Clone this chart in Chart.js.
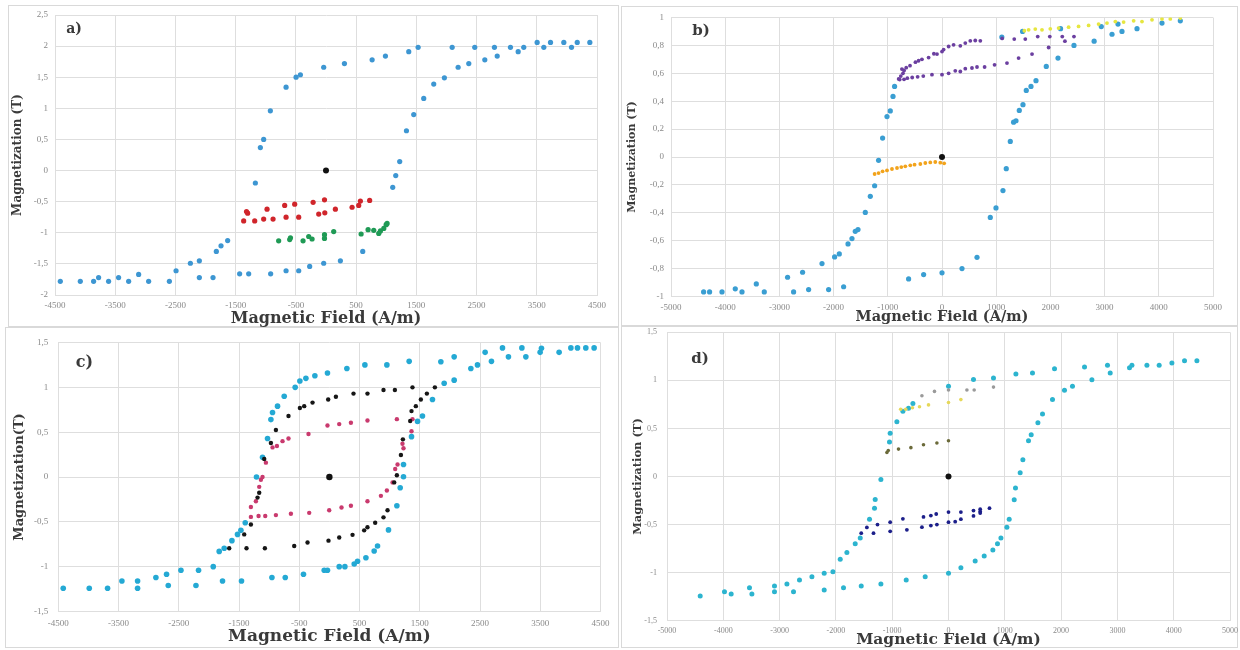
<!DOCTYPE html>
<html>
<head>
<meta charset="utf-8">
<script src="https://cdn.jsdelivr.net/npm/chart.js@4.4.1/dist/chart.umd.min.js"></script>
<style>
  html, body { margin: 0; padding: 0; background: #ffffff; }
  body { width: 1240px; height: 650px; position: relative; overflow: hidden; }
  .frame { position: absolute; box-sizing: border-box; border: 1px solid #d9d9d9; }
  canvas { position: absolute; }
</style>
</head>
<body>
<div class="frame" style="left:8px;top:5px;width:611px;height:322px"></div>
<div class="frame" style="left:621px;top:6px;width:617px;height:320px"></div>
<div class="frame" style="left:5px;top:327px;width:614px;height:321px"></div>
<div class="frame" style="left:621px;top:326px;width:617px;height:322px"></div>
<canvas id="panelA" width="620" height="327" style="left:0;top:0"></canvas>
<canvas id="panelB" width="620" height="327" style="left:620px;top:0"></canvas>
<canvas id="panelC" width="620" height="323" style="left:0;top:327px"></canvas>
<canvas id="panelD" width="620" height="323" style="left:620px;top:327px"></canvas>
<script>
// ---- Axis ticks (A/m and T) ----
const fieldTicksA = [-4500, -3500, -2500, -1500, -500, 500, 1500, 2500, 3500, 4500];
const magTicksA   = [-2, -1.5, -1, -0.5, 0, 0.5, 1, 1.5, 2, 2.5];
const fieldTicksB = [-5000, -4000, -3000, -2000, -1000, 0, 1000, 2000, 3000, 4000, 5000];
const magTicksB   = [-1, -0.8, -0.6, -0.4, -0.2, 0, 0.2, 0.4, 0.6, 0.8, 1];
const fieldTicksC = [-4500, -3500, -2500, -1500, -500, 500, 1500, 2500, 3500, 4500];
const magTicksC   = [-1.5, -1, -0.5, 0, 0.5, 1, 1.5];
const fieldTicksD = [-5000, -4000, -3000, -2000, -1000, 0, 1000, 2000, 3000, 4000, 5000];
const magTicksD   = [-1.5, -1, -0.5, 0, 0.5, 1, 1.5];

// ---- a) major loop and two minor loops, [H (A/m), M (T)] ----
const loopA_major = [
  [-4412,-1.78],[-4080,-1.78],[-3859,-1.78],[-3776,-1.72],[-3610,-1.78],[-3444,-1.72],[-3277,-1.78],
  [-3111,-1.67],[-2945,-1.78],[-2601,-1.78],[-2490,-1.61],[-2252,-1.49],[-2103,-1.45],[-2103,-1.72],
  [-1876,-1.72],[-1821,-1.30],[-1743,-1.21],[-1633,-1.125],[-1434,-1.66],[-1284,-1.66],[-919,-1.66],
  [-663,-1.61],[-453,-1.61],[-271,-1.54],[-38,-1.49],[239,-1.45],[610,-1.30],[1108,-0.27],[1158,-0.08],
  [1224,0.145],[1336,0.64],[1457,0.90],[1623,1.16],[1789,1.39],[1966,1.49],[2194,1.66],[2371,1.72],
  [2637,1.78],[2843,1.84],[3191,1.91],
  [-1173,-0.20],[-1090,0.37],[-1035,0.50],[-924,0.96],[-663,1.34],[-497,1.50],[-425,1.54],[-38,1.66],
  [306,1.72],[766,1.78],[987,1.84],[1374,1.91],[1530,1.98],[2095,1.98],[2470,1.98],[2797,1.98],
  [3063,1.98],[3284,1.98],[3506,2.06],[3617,1.98],[3728,2.06],[3949,2.06],[4077,1.98],[4172,2.06],[4381,2.06]
];
const loopA_red = [
  [-1367,-0.81],[-1301,-0.685],[-1320,-0.66],[-1184,-0.81],[-1035,-0.78],[-979,-0.62],[-879,-0.78],
  [-686,-0.56],[-663,-0.75],[-520,-0.54],[-453,-0.75],[-214,-0.51],[-121,-0.70],[-25,-0.47],[-20,-0.68],
  [156,-0.62],[433,-0.59],[543,-0.56],[571,-0.49],[725,-0.48]
];
const loopA_green = [
  [-786,-1.13],[-603,-1.11],[-590,-1.08],[-381,-1.13],[-287,-1.06],[-231,-1.10],[-25,-1.09],[-25,-1.03],
  [128,-0.98],[583,-1.02],[699,-0.95],[793,-0.96],[876,-1.01],[904,-0.97],[960,-0.93],[999,-0.87],[1015,-0.85]
];
const originA = [[0, 0]];

// ---- b) ----
const loopB_major = [
  [-4398,-0.967],[-4288,-0.967],[-4059,-0.967],[-3814,-0.945],[-3690,-0.967],[-3426,-0.91],[-3279,-0.967],
  [-2849,-0.862],[-2738,-0.967],[-2572,-0.826],[-2461,-0.95],[-2214,-0.764],[-2092,-0.95],[-1981,-0.716],
  [-1895,-0.695],[-1815,-0.93],[-1734,-0.623],[-1661,-0.585],[-1600,-0.533],[-1550,-0.52],[-1415,-0.397],
  [-1323,-0.282],[-1243,-0.206],[-1170,-0.024],[-1096,0.136],[-1015,0.29],[-954,0.33],[-904,0.434],[-875,0.506],
  [-616,-0.874],[-339,-0.843],[0,-0.83],[369,-0.80],[646,-0.719],[891,-0.433],[996,-0.365],[1125,-0.241],
  [1186,-0.084],[1260,0.112],[1321,0.25],[1365,0.26],[1426,0.334],[1494,0.375],[1555,0.477],[1642,0.506],
  [1734,0.547],[1924,0.649],[2140,0.709],[2435,0.80],[2807,0.83],[2939,0.935],[3137,0.88],[3247,0.953],
  [3321,0.90],[3598,0.92],[4059,0.96],[4397,0.976],[1104,0.86],[1487,0.90],[2188,0.92]
];
const loopB_purpleUpper = [
  [-800,0.56],[-760,0.58],[-720,0.60],[-700,0.62],[-740,0.63],[-660,0.64],[-590,0.655],[-490,0.68],
  [-432,0.69],[-370,0.70],[-247,0.713],[-150,0.74],[-92,0.738],[0,0.756],[30,0.77],[122,0.792],[214,0.804],
  [338,0.797],[430,0.817],[522,0.833],[614,0.835],[707,0.833],
  [1110,0.85],[1333,0.845],[1537,0.845],[1766,0.863],[1989,0.863],[2219,0.863],[2268,0.83],[2435,0.863]
];
const loopB_purpleLower = [
  [-780,0.555],[-700,0.557],[-640,0.565],[-550,0.57],[-450,0.575],[-345,0.58],[-185,0.59],[0,0.59],
  [122,0.60],[245,0.618],[338,0.613],[430,0.633],[553,0.638],[646,0.645],[786,0.645],[970,0.661],
  [1199,0.673],[1413,0.709],[1661,0.738],[1967,0.785]
];
const loopB_yellow = [
  [1520,0.905],[1598,0.912],[1721,0.917],[1845,0.912],[1998,0.919],[2151,0.924],[2336,0.931],[2520,0.936],
  [2705,0.943],[2889,0.953],[3044,0.96],[3198,0.971],[3351,0.967],[3536,0.976],[3690,0.971],[3875,0.983],
  [4059,0.99],[4212,0.99],[4397,0.996]
];
const loopB_orange = [
  [-1243,-0.122],[-1170,-0.115],[-1096,-0.103],[-1015,-0.096],[-923,-0.086],[-830,-0.079],[-751,-0.072],
  [-677,-0.067],[-585,-0.06],[-506,-0.055],[-400,-0.05],[-308,-0.043],[-216,-0.039],[-124,-0.036],
  [-31,-0.041],[40,-0.045]
];
const originB = [[0, 0]];

// ---- c) ----
const loopC_major = [
  [-4418,-1.24],[-3986,-1.24],[-3682,-1.24],[-3444,-1.16],[-3184,-1.16],[-3184,-1.24],[-2880,-1.12],
  [-2703,-1.085],[-2675,-1.21],[-2464,-1.04],[-2172,-1.04],[-2215,-1.21],[-1928,-1.00],[-1774,-1.16],
  [-1459,-1.16],[-1829,-0.83],[-1746,-0.795],[-1618,-0.71],[-1525,-0.64],[-1469,-0.595],[-1397,-0.51],
  [-1210,0.0],[-1110,0.22],[-1027,0.43],[-971,0.64],[-944,0.72],[-861,0.79],[-750,0.90],[-568,1.00],
  [-490,1.07],[-390,1.10],[-241,1.13],[-32,1.16],
  [-954,-1.12],[-733,-1.12],[-430,-1.085],[-86,-1.04],[-32,-1.04],[163,-1.00],[257,-1.00],[412,-0.97],
  [467,-0.94],[606,-0.90],[743,-0.825],[799,-0.77],[981,-0.59],[1120,-0.32],[1175,-0.12],[1230,0.003],
  [1230,0.14],[1363,0.45],[1463,0.62],[1545,0.68],[1711,0.865],[1905,1.045],[2071,1.08],[2348,1.21],
  [2458,1.25],[2690,1.29],[2585,1.39],[2873,1.44],[2972,1.34],[3195,1.44],[3261,1.34],[3498,1.39],
  [3520,1.435],[3813,1.39],[4008,1.44],[4118,1.44],[4256,1.44],[4394,1.44],
  [290,1.21],[589,1.25],[954,1.25],[1324,1.29],[1850,1.285],[2071,1.34]
];
const loopC_black = [
  [-1663,-0.795],[-1376,-0.795],[-1071,-0.795],[-1414,-0.64],[-1303,-0.53],[-1193,-0.23],[-1165,-0.175],
  [-1082,0.20],[-971,0.38],[-888,0.525],[-679,0.68],[-490,0.77],[-418,0.79],[-280,0.83],[-20,0.865],
  [108,0.895],[400,0.93],[632,0.93],[898,0.97],[1087,0.97],[1379,1.00],[1363,0.735],[1435,0.79],
  [1341,0.625],[1518,0.865],[1618,0.93],[1751,1.00],[1220,0.42],[1187,0.245],[1120,0.02],[1076,-0.06],
  [965,-0.37],[898,-0.45],[760,-0.51],[632,-0.56],[577,-0.595],[384,-0.645],[163,-0.675],[-15,-0.71],
  [-363,-0.73],[-584,-0.77]
];
const loopC_pink = [
  [-1303,-0.335],[-1220,-0.27],[-1165,-0.11],[-1137,-0.03],[-1110,0.0],[-1054,0.16],[-944,0.33],
  [-871,0.345],[-778,0.40],[-679,0.43],[-347,0.48],[-32,0.575],[163,0.59],[357,0.605],[632,0.63],
  [1120,0.645],[1379,0.645],[1363,0.51],[1230,0.32],[1213,0.37],[1131,0.14],[1092,0.09],[1048,-0.06],
  [954,-0.15],[855,-0.21],[632,-0.27],[357,-0.32],[201,-0.34],[-3,-0.37],[-335,-0.40],[-639,-0.41],
  [-888,-0.425],[-1065,-0.435],[-1176,-0.435],[-1303,-0.445]
];
const originC = [[0, 0]];

// ---- d) ----
const loopD_major = [
  [-4410,-1.243],[-3979,-1.198],[-3860,-1.222],[-3535,-1.156],[-3492,-1.222],[-3091,-1.14],[-3091,-1.198],
  [-2870,-1.118],[-2753,-1.198],[-2647,-1.076],[-2426,-1.042],[-2208,-1.006],[-2208,-1.18],[-2053,-0.99],
  [-1923,-0.86],[-1805,-0.79],[-1657,-0.70],[-1568,-0.64],[-1403,-0.444],[-1314,-0.33],[-1302,-0.24],
  [-1201,-0.03],[-1048,0.36],[-1036,0.45],[-917,0.57],[-810,0.68],[-710,0.71],[-632,0.76],[0,0.94],
  [444,1.01],[799,1.025],[1197,1.066],[1492,1.077],[1883,1.12],[2416,1.14],[2824,1.156],
  [-1865,-1.156],[-1550,-1.14],[-1201,-1.118],[-751,-1.076],[-414,-1.042],[0,-1.006],[220,-0.948],
  [474,-0.878],[634,-0.826],[788,-0.764],[870,-0.70],[931,-0.64],[1037,-0.527],[1078,-0.444],
  [1167,-0.243],[1190,-0.12],[1273,0.04],[1321,0.174],[1421,0.372],[1469,0.434],[1588,0.56],[1670,0.65],
  [1847,0.80],[2060,0.896],[2202,0.94],[2547,1.007],[2872,1.077],[3215,1.13],[3258,1.156],[3524,1.156],
  [3742,1.156],[3968,1.18],[4192,1.205],[4412,1.205]
];
const loopD_gray   = [[-472,0.84],[-249,0.885],[0,0.90],[327,0.90],[456,0.90],[799,0.93]];
const loopD_yellow = [[-850,0.70],[-760,0.70],[-640,0.715],[-515,0.725],[-355,0.745],[0,0.77],[220,0.80]];
const loopD_olive  = [[-1094,0.25],[-1070,0.27],[-888,0.285],[-668,0.30],[-444,0.33],[-206,0.348],[0,0.372]];
const loopD_navy = [
  [-1550,-0.59],[-1450,-0.53],[-1332,-0.59],[-1261,-0.50],[-1036,-0.475],[-1036,-0.57],[-810,-0.44],
  [-739,-0.555],[-472,-0.527],[-444,-0.42],[-313,-0.406],[-218,-0.39],[-313,-0.51],[-206,-0.50],
  [0,-0.37],[220,-0.37],[444,-0.354],[563,-0.34],[563,-0.365],[728,-0.33],[0,-0.475],[119,-0.47],
  [220,-0.444],[444,-0.41],[563,-0.38]
];
const originD = [[0, 0]];

// ---- drawing helpers ----
const GRID = '#dedede';
const TICK_COLOR = '#8a8a8a';
const TITLE_COLOR = '#3a3a3a';
const SERIF = '"DejaVu Serif", "Liberation Serif", serif';
const TICK_FONT = '"Liberation Serif", "DejaVu Serif", serif';

function pts(pairs) { return pairs.map(p => ({ x: p[0], y: p[1] })); }
function series(pairs, color, r) {
  return { data: pts(pairs), backgroundColor: color, borderColor: color,
           borderWidth: 0, pointRadius: r, pointHoverRadius: r };
}
function commaLabel(v) { return String(Math.round(v * 100) / 100).replace('.', ','); }

// panel letter drawn inside the plotting area
const panelTag = {
  id: 'panelTag',
  afterDraw(chart, args, o) {
    const { ctx, chartArea } = chart;
    ctx.save();
    ctx.font = 'bold ' + o.size + 'px ' + SERIF;
    ctx.fillStyle = '#3a3a3a';
    ctx.textAlign = 'center';
    ctx.textBaseline = 'middle';
    ctx.fillText(o.text, chartArea.left + o.dx, chartArea.top + o.dy);
    ctx.restore();
  }
};

function makePanel(p) {
  const [L, T, W, H] = p.canvas;
  const [x0, y0, x1, y1] = p.plot;
  const xLh = p.xTitleSize, yLh = p.yTitleSize;
  new Chart(document.getElementById(p.id), {
    type: 'scatter',
    data: { datasets: p.datasets },
    plugins: [panelTag],
    options: {
      responsive: false,
      animation: false,
      devicePixelRatio: 1,
      layout: { padding: { left: 0, top: y0 - T, right: (L + W) - x1, bottom: 0 } },
      plugins: {
        legend: { display: false },
        tooltip: { enabled: false },
        panelTag: { text: p.tag, dx: p.tagPos[0], dy: p.tagPos[1], size: p.tagSize }
      },
      scales: {
        x: {
          type: 'linear', min: p.xTicks[0], max: p.xTicks[p.xTicks.length - 1],
          afterBuildTicks: s => { s.ticks = p.xTicks.map(v => ({ value: v })); },
          afterFit: s => { s.height = (T + H) - y1; s.paddingLeft = 0; s.paddingRight = 0; },
          grid: { color: GRID, lineWidth: 1, drawTicks: false },
          border: { color: GRID, width: 1 },
          ticks: { autoSkip: false, maxRotation: 0, padding: p.xTickPad, color: TICK_COLOR,
                   font: { family: TICK_FONT, size: p.tickSize }, callback: v => String(v) },
          title: { display: true, text: 'Magnetic Field (A/m)', color: TITLE_COLOR,
                   font: { family: SERIF, size: p.xTitleSize, weight: 'bold', lineHeight: 1 },
                   padding: { top: 0, bottom: (T + H) - p.xTitleY - xLh / 2 } }
        },
        y: {
          type: 'linear', min: p.yTicks[0], max: p.yTicks[p.yTicks.length - 1],
          afterBuildTicks: s => { s.ticks = p.yTicks.map(v => ({ value: v })); },
          afterFit: s => { s.width = x0 - L; s.paddingTop = 0; s.paddingBottom = 0; },
          grid: { color: GRID, lineWidth: 1, drawTicks: false },
          border: { color: GRID, width: 1 },
          ticks: { autoSkip: false, padding: p.yTickPad, color: TICK_COLOR,
                   font: { family: TICK_FONT, size: p.tickSize }, callback: v => commaLabel(v) },
          title: { display: true, text: p.yTitle, color: TITLE_COLOR,
                   font: { family: SERIF, size: p.yTitleSize, weight: 'bold', lineHeight: 1 },
                   padding: { top: p.yTitleX - L - yLh / 2, bottom: 0 } }
        }
      }
    }
  });
}

makePanel({
  id: 'panelA', canvas: [0, 0, 620, 327], plot: [55, 15, 597, 295],
  xTicks: fieldTicksA, yTicks: magTicksA, tickSize: 9, xTickPad: 5, yTickPad: 7,
  xTitleSize: 16, xTitleY: 318.5, yTitleSize: 12, yTitleX: 18, yTitle: 'Magnetization (T)',
  tag: 'a)', tagPos: [19, 14], tagSize: 14,
  datasets: [
    series(originA, '#111111', 3),
    series(loopA_red, '#d0252b', 2.6),
    series(loopA_green, '#1f9a55', 2.6),
    series(loopA_major, '#3d96d2', 2.6)
  ]
});

makePanel({
  id: 'panelB', canvas: [620, 0, 620, 327], plot: [671, 17.5, 1213, 296.5],
  xTicks: fieldTicksB, yTicks: magTicksB, tickSize: 9, xTickPad: 6, yTickPad: 7,
  xTitleSize: 14.5, xTitleY: 317, yTitleSize: 11, yTitleX: 632, yTitle: 'Magnetization (T)',
  tag: 'b)', tagPos: [30, 14], tagSize: 15,
  datasets: [
    series(originB, '#111111', 3),
    series(loopB_orange, '#f2a31b', 1.9),
    series(loopB_yellow, '#e6e640', 1.9),
    series(loopB_purpleUpper, '#6b3fa0', 1.9),
    series(loopB_purpleLower, '#6b3fa0', 1.9),
    series(loopB_major, '#3a9ed2', 2.6)
  ]
});

makePanel({
  id: 'panelC', canvas: [0, 327, 620, 323], plot: [58.3, 342.5, 600.5, 611.5],
  xTicks: fieldTicksC, yTicks: magTicksC, tickSize: 9, xTickPad: 7, yTickPad: 10,
  xTitleSize: 17, xTitleY: 637, yTitleSize: 13, yTitleX: 20, yTitle: 'Magnetization(T)',
  tag: 'c)', tagPos: [26, 20], tagSize: 16,
  datasets: [
    series(originC, '#111111', 3.2),
    series(loopC_black, '#161616', 2.2),
    series(loopC_pink, '#c93a6e', 2.2),
    series(loopC_major, '#24a9d4', 2.8)
  ]
});

makePanel({
  id: 'panelD', canvas: [620, 327, 620, 323], plot: [667, 332.3, 1230, 620.7],
  xTicks: fieldTicksD, yTicks: magTicksD, tickSize: 8, xTickPad: 5, yTickPad: 10,
  xTitleSize: 15.5, xTitleY: 639.5, yTitleSize: 11.5, yTitleX: 638, yTitle: 'Magnetization (T)',
  tag: 'd)', tagPos: [33, 27], tagSize: 15,
  datasets: [
    series(originD, '#111111', 3),
    series(loopD_gray, '#9a9a9a', 1.8),
    series(loopD_yellow, '#e6d85a', 1.8),
    series(loopD_olive, '#6b6a3a', 1.8),
    series(loopD_navy, '#1c1f8a', 1.9),
    series(loopD_major, '#2cb4cf', 2.5)
  ]
});
</script>
</body>
</html>
